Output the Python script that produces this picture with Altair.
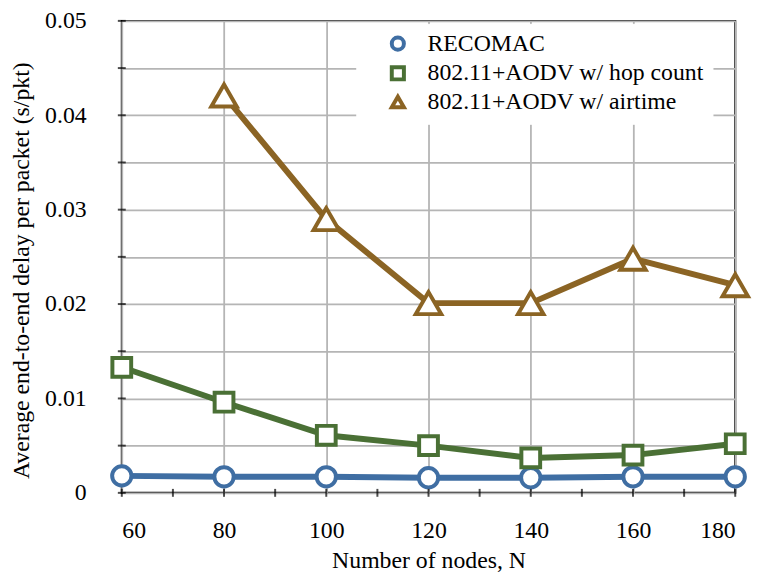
import altair as alt
import pandas as pd

nodes = [60, 80, 100, 120, 140, 160, 180]
recomac = [0.0018, 0.0017, 0.0017, 0.0016, 0.0016, 0.0017, 0.0017]
hop_count = [0.0133, 0.0096, 0.0061, 0.0050, 0.0037, 0.0040, 0.0052]
airtime_nodes = [80, 100, 120, 140, 160, 180]
airtime = [0.0421, 0.0290, 0.0201, 0.0201, 0.0248, 0.0220]

series_names = ["RECOMAC", "802.11+AODV w/ hop count", "802.11+AODV w/ airtime"]
series_colors = ["#3F6EA3", "#4A7035", "#8B6424"]
series_shapes = ["circle", "square", "triangle-up"]
series_sizes = [380, 360, 660]

x_ticks = [60, 70, 80, 90, 100, 110, 120, 130, 140, 150, 160, 170, 180]
x_grid = [60, 80, 100, 120, 140, 160, 180]
y_ticks = [0, 0.005, 0.01, 0.015, 0.02, 0.025, 0.03, 0.035, 0.04, 0.045, 0.05]

rows = []
for n, v in zip(nodes, recomac):
    rows.append({"N": n, "delay": v, "series": series_names[0]})
for n, v in zip(nodes, hop_count):
    rows.append({"N": n, "delay": v, "series": series_names[1]})
for n, v in zip(airtime_nodes, airtime):
    rows.append({"N": n, "delay": v, "series": series_names[2]})
df = pd.DataFrame(rows)

FONT = "'Liberation Serif', 'Times New Roman', 'DejaVu Serif', serif"
FS = 24

x_enc = alt.X(
    "N:Q",
    scale=alt.Scale(domain=[60, 180], nice=False, zero=False),
    axis=alt.Axis(
        values=x_grid,
        title="Number of nodes, N",
        grid=True,
        ticks=False,
        domain=False,
        labelPadding=26,
        titleY=75,
        titleBaseline="alphabetic",
    ),
)
y_enc = alt.Y(
    "delay:Q",
    scale=alt.Scale(domain=[0, 0.05], nice=False),
    axis=alt.Axis(
        values=y_ticks,
        title="Average end-to-end delay per packet (s/pkt)",
        grid=True,
        ticks=False,
        domain=False,
        labelPadding=36,
        labelExpr="abs(datum.value*100 - round(datum.value*100)) < 1e-6 ? (datum.value == 0 ? '0' : format(datum.value, '.2f')) : ''",
        titleX=-101,
        titleY=252,
        titleAngle=270,
        titleAlign="center",
        titleBaseline="middle",
    ),
)

color_enc = alt.Color(
    "series:N",
    scale=alt.Scale(domain=series_names, range=series_colors),
    sort=series_names,
    legend=alt.Legend(
        title=None,
        orient="none",
        legendX=237,
        legendY=3,
        fillColor="white",
        padding=8,
        symbolOffset=22,
        symbolSize=150,
        symbolStrokeWidth=4,
        symbolFillColor="white",
        labelFont=FONT,
        labelFontSize=FS,
        labelLimit=500,
        labelOffset=18,
        rowPadding=0,
        strokeColor="white",
    ),
)
shape_enc = alt.Shape(
    "series:N",
    scale=alt.Scale(domain=series_names, range=series_shapes),
    sort=series_names,
)

lines = alt.Chart(df).mark_line(strokeWidth=6).encode(
    x=x_enc, y=y_enc, color=color_enc, detail="series:N"
)

point_layers = []
for name, size in zip(series_names, series_sizes):
    point_layers.append(
        alt.Chart(df)
        .transform_filter(alt.datum.series == name)
        .mark_point(filled=False, fill="white", fillOpacity=1, strokeWidth=4, opacity=1, size=size)
        .encode(x="N:Q", y="delay:Q", color=color_enc, shape=shape_enc)
    )

xt = alt.Chart(pd.DataFrame({"N": x_ticks})).mark_tick(
    orient="vertical", size=8, thickness=2, color="black"
).encode(x="N:Q", y=alt.datum(0))
yt = alt.Chart(pd.DataFrame({"delay": y_ticks})).mark_tick(
    orient="horizontal", size=8, thickness=2, color="black"
).encode(y="delay:Q", x=alt.datum(60))

chart = (
    alt.layer(lines, *point_layers, xt, yt)
    .properties(
        width=620,
        height=477,
        autosize=alt.AutoSizeParams(type="none"),
        padding={"left": 115, "top": 10, "right": 23, "bottom": 78},
    )
    .configure_view(stroke="black", strokeWidth=2)
    .configure_axis(
        labelFont=FONT,
        labelFontSize=FS,
        labelColor="black",
        titleFont=FONT,
        titleFontSize=FS,
        titleFontWeight="normal",
        titleColor="black",
        gridColor="#B5B5B5",
        gridWidth=1.8,
    )
    .configure_legend(labelColor="black")
)

chart.save("out.html", embed_options={"renderer": "svg", "actions": False})
